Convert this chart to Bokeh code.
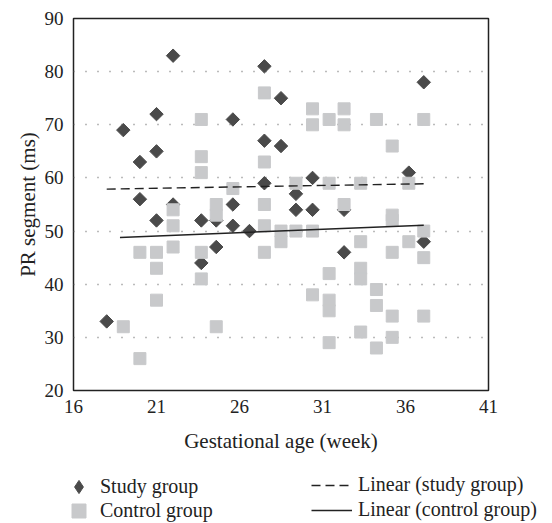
import numpy as np
from bokeh.plotting import figure
from bokeh.models import FixedTicker, Legend, LegendItem
from bokeh.embed import file_html
from bokeh.resources import INLINE

# Study group (diamonds)
study_x = [18, 19, 20, 20, 21, 21, 21, 22, 22, 23.7, 23.7, 24.6, 24.6, 25.6, 25.6, 25.6,
           26.6, 27.5, 27.5, 27.5, 28.5, 28.5, 29.4, 29.4, 30.4, 30.4, 32.3, 32.3, 36.2, 37.1, 37.1]
study_y = [33, 69, 63, 56, 72, 65, 52, 83, 55, 52, 44, 52, 47, 71, 55, 51,
           50, 81, 67, 59, 75, 66, 57, 54, 60, 54, 54, 46, 61, 78, 48]

# Control group (squares)
control_x = [19, 20, 20, 21, 21, 21, 22, 22, 22, 23.7, 23.7, 23.7, 23.7, 23.7, 24.6, 24.6, 24.6,
             25.6, 27.5, 27.5, 27.5, 27.5, 27.5, 28.5, 28.5, 29.4, 29.4, 30.4, 30.4, 30.4, 30.4,
             31.4, 31.4, 31.4, 31.4, 31.4, 31.4, 32.3, 32.3, 32.3, 33.3, 33.3, 33.3, 33.3, 33.3,
             34.25, 34.25, 34.25, 34.25, 35.2, 35.2, 35.2, 35.2, 35.2, 35.2, 36.2, 36.2,
             37.1, 37.1, 37.1, 37.1]
control_y = [32, 46, 26, 46, 43, 37, 54, 51, 47, 71, 64, 61, 46, 41, 55, 53, 32,
             58, 76, 63, 55, 51, 46, 50, 48, 59, 50, 73, 70, 50, 38,
             71, 59, 42, 37, 35, 29, 73, 70, 55, 59, 48, 43, 41, 31,
             71, 39, 36, 28, 66, 53, 52, 46, 34, 30, 59, 48,
             71, 50, 45, 34]

# Linear trend lines (end points)
study_fit_x = [18, 37.1]
study_fit_y = [57.9, 58.9]
control_fit_x = [18.8, 37.1]
control_fit_y = [48.8, 51.1]

x_ticks = [16, 21, 26, 31, 36, 41]
y_ticks = [20, 30, 40, 50, 60, 70, 80, 90]

legend_labels = ["Study group", "Control group", "Linear (study group)", "Linear (control group)"]

FONT = "Liberation Serif"
DARK = "#4a4a4a"
LIGHT = "#c8c9cb"
INK = "#222222"

p = figure(width=552, height=462, x_range=(16, 41), y_range=(20, 90),
           output_backend="svg", toolbar_location=None,
           min_border_left=73, min_border_right=64, min_border_top=18, min_border_bottom=72)

p.background_fill_color = "white"
p.border_fill_color = "white"
p.outline_line_color = INK
p.outline_line_width = 1.5

p.xgrid.visible = False
p.ygrid.ticker = FixedTicker(ticks=y_ticks)
p.ygrid.grid_line_color = "#777777"
p.ygrid.grid_line_width = 1.5
p.ygrid.grid_line_dash = "1 11"

p.xaxis.ticker = FixedTicker(ticks=x_ticks)
p.yaxis.ticker = FixedTicker(ticks=y_ticks)
for ax in (p.xaxis, p.yaxis):
    ax.axis_line_color = None
    ax.major_tick_line_color = None
    ax.minor_tick_line_color = None
    ax.major_tick_out = 0
    ax.major_tick_in = 0
    ax.major_label_text_font = FONT
    ax.major_label_text_font_size = "19px"
    ax.major_label_text_color = INK
    ax.axis_label_text_font = FONT
    ax.axis_label_text_font_size = "21px"
    ax.axis_label_text_font_style = "normal"
    ax.axis_label_text_color = INK

p.xaxis.axis_label = "Gestational age (week)"
p.yaxis.axis_label = "PR segment (ms)"
p.xaxis.major_label_standoff = 9
p.xaxis.axis_label_standoff = 13
p.yaxis.major_label_standoff = 10
p.yaxis.axis_label_standoff = 2

p.scatter(study_x, study_y, marker="square", angle=np.pi / 4, size=9.5,
          fill_color=DARK, line_color=DARK)
p.scatter(control_x, control_y, marker="square", size=12,
          fill_color=LIGHT, line_color=LIGHT)
p.line(study_fit_x, study_fit_y, line_color=INK, line_width=1.4, line_dash="9 5")
p.line(control_fit_x, control_fit_y, line_color=INK, line_width=1.4)

# ---- legend strip below the chart (separate root, no frame alignment) ----
lf = figure(width=552, height=61, x_range=(0, 1), y_range=(0, 1),
            output_backend="svg", toolbar_location=None,
            x_axis_location=None, y_axis_location=None,
            min_border_left=0, min_border_right=0, min_border_top=0, min_border_bottom=0)
lf.outline_line_color = None
lf.grid.visible = False
lf.background_fill_color = "white"
lf.border_fill_color = "white"

# legend proxies: same data, drawn outside this strip's visible ranges
lg_study = lf.scatter(study_x, study_y, marker="diamond",
                      fill_color=DARK, line_color=DARK)
lg_control = lf.scatter(control_x, control_y, marker="square",
                        fill_color=LIGHT, line_color=LIGHT)
lg_sfit = lf.line(study_fit_x, study_fit_y, line_color=INK, line_width=1.4, line_dash="9 5")
lg_cfit = lf.line(control_fit_x, control_fit_y, line_color=INK, line_width=1.4)

def one_item_legend(label, rend, loc, gw, gh, standoff):
    return Legend(items=[LegendItem(label=label, renderers=[rend], index=0)], location=loc,
                  glyph_width=gw, glyph_height=gh, label_height=gh, spacing=0,
                  padding=0, margin=0, label_standoff=standoff,
                  label_text_font=FONT, label_text_font_size="20px",
                  label_text_color=INK, background_fill_alpha=0, border_line_alpha=0)

lf.add_layout(one_item_legend(legend_labels[0], lg_study, (62, 20.5), 33, 33, 5))
lf.add_layout(one_item_legend(legend_labels[1], lg_control, (61, -5), 35, 35, 4))
lf.add_layout(one_item_legend(legend_labels[2], lg_sfit, (311, 27), 41, 20, 6))
lf.add_layout(one_item_legend(legend_labels[3], lg_cfit, (311, 2), 41, 20, 6))

open("out.html", "w").write(file_html([p, lf], INLINE))
